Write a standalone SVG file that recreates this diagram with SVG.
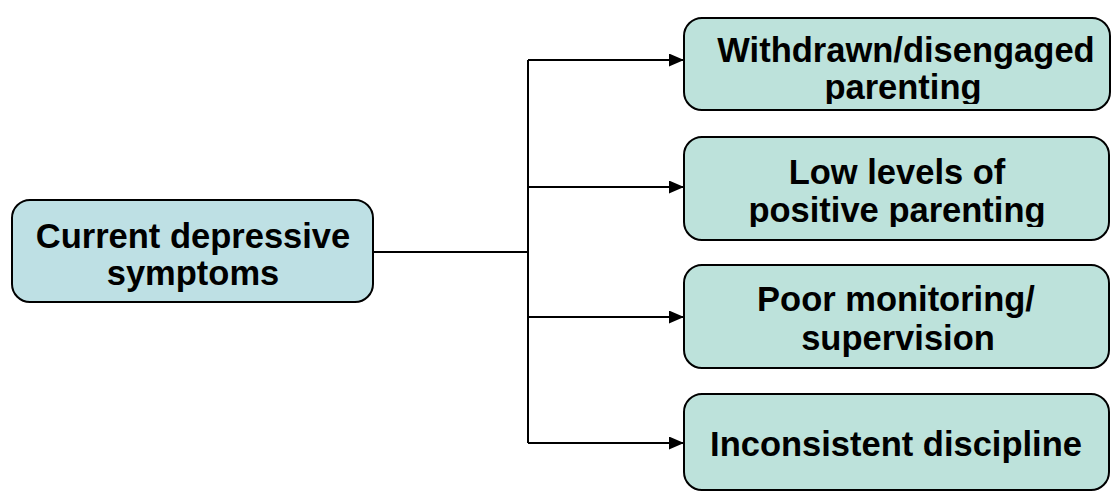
<svg xmlns="http://www.w3.org/2000/svg" width="1113" height="495" viewBox="0 0 1113 495">
<style>
.box{stroke:#000;stroke-width:2}
.src{fill:#bee0e4}
.dst{fill:#bde2db}
text{font-family:"Liberation Sans",Arial,sans-serif;font-weight:bold;font-size:34.5px;fill:#000;text-anchor:middle}
.conn{fill:none;stroke:#000;stroke-width:2}
</style>
<defs>
<marker id="arr" markerWidth="15" markerHeight="13" refX="15" refY="6.5" orient="auto" markerUnits="userSpaceOnUse">
<path d="M0,0 L15,6.5 L0,13 Z" fill="#000"/>
</marker>
<clipPath id="c1"><rect x="684" y="18" width="426" height="86"/></clipPath>
<clipPath id="c2"><rect x="684" y="137" width="425" height="90"/></clipPath>
</defs>
<g id="connectors">
<path class="conn" d="M373,252 H528"/>
<path class="conn" d="M528,60 V443"/>
<path class="conn" d="M528,60 H684" marker-end="url(#arr)"/>
<path class="conn" d="M528,187 H684" marker-end="url(#arr)"/>
<path class="conn" d="M528,317 H684" marker-end="url(#arr)"/>
<path class="conn" d="M528,443 H684" marker-end="url(#arr)"/>
</g>
<g id="current">
<rect class="box src" x="12" y="200" width="361" height="102" rx="18"/>
<text x="193" y="248">Current depressive</text>
<text x="193" y="285">symptoms</text>
</g>
<g id="withdrawn">
<rect class="box dst" x="684" y="18" width="426" height="92" rx="18"/>
<text x="906" y="62">Withdrawn/disengaged</text>
<text x="903" y="99" clip-path="url(#c1)">parenting</text>
</g>
<g id="lowlevels">
<rect class="box dst" x="684" y="137" width="425" height="103" rx="18"/>
<text x="897" y="184">Low levels of</text>
<text x="897" y="222" clip-path="url(#c2)">positive parenting</text>
</g>
<g id="monitoring">
<rect class="box dst" x="684" y="265" width="425" height="103" rx="18"/>
<text x="896" y="311">Poor monitoring/</text>
<text x="898" y="350">supervision</text>
</g>
<g id="discipline">
<rect class="box dst" x="684" y="394" width="425" height="96" rx="18"/>
<text x="896" y="456">Inconsistent discipline</text>
</g>
</svg>
